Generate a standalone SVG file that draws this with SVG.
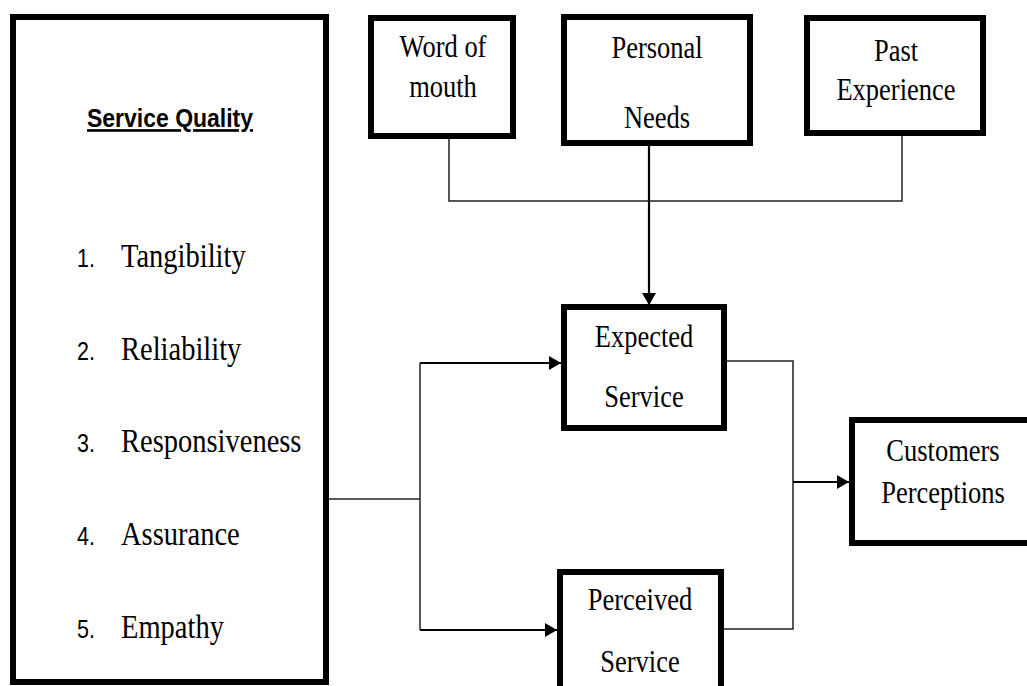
<svg xmlns="http://www.w3.org/2000/svg" width="1027" height="686" viewBox="0 0 1027 686">
<style>
.box{fill:#fff;stroke:#000;stroke-width:6}
.t{font-family:"Liberation Serif","Times New Roman",serif;font-size:26.5px;fill:#000;text-anchor:middle}
.li{font-family:"Liberation Serif","Times New Roman",serif;font-size:28.5px;fill:#000}
.num{font-family:"Liberation Sans",Arial,sans-serif;font-size:21.5px;fill:#000}
.ln{fill:none;stroke:#222;stroke-width:1.5}
.lnb{fill:none;stroke:#000;stroke-width:2.2}
</style>
<defs>
<marker id="ah" viewBox="0 0 12 14" refX="12" refY="7" markerWidth="12" markerHeight="14" markerUnits="userSpaceOnUse" orient="auto">
<path d="M0,0 L12,7 L0,14 Z" fill="#000"/>
</marker>
</defs>
<rect width="1027" height="686" fill="#fff"/>
<g id="connectors">
<polyline class="ln" points="449,139 449,201 902,201 902,136"/>
<line class="lnb" x1="649" y1="146" x2="649" y2="305" marker-end="url(#ah)"/>
<polyline class="ln" points="329,499 420,499"/>
<polyline class="lnb" points="420,363 561,363" marker-end="url(#ah)"/>
<polyline class="ln" points="420,363 420,630"/>
<polyline class="lnb" points="420,630 557,630" marker-end="url(#ah)"/>
<polyline class="ln" points="727,361 793,361 793,629 724,629"/>
<line class="lnb" x1="793" y1="482" x2="849" y2="482" marker-end="url(#ah)"/>
</g>
<g id="service-quality">
<rect class="box" x="13" y="17" width="313" height="665"/>
<text transform="translate(170 127) scale(1 1.15)" font-family="'Liberation Sans',Arial,sans-serif" font-weight="bold" font-size="23" text-anchor="middle" text-decoration="underline">Service Quality</text>
<text class="num" transform="translate(77 267) scale(1 1.16)">1.</text><text class="li" transform="translate(121 267) scale(1 1.16)">Tangibility</text>
<text class="num" transform="translate(77 360) scale(1 1.16)">2.</text><text class="li" transform="translate(121 360) scale(1 1.16)">Reliability</text>
<text class="num" transform="translate(77 452) scale(1 1.16)">3.</text><text class="li" transform="translate(121 452) scale(1 1.16)">Responsiveness</text>
<text class="num" transform="translate(77 545) scale(1 1.16)">4.</text><text class="li" transform="translate(121 545) scale(1 1.16)">Assurance</text>
<text class="num" transform="translate(77 638) scale(1 1.16)">5.</text><text class="li" transform="translate(121 638) scale(1 1.16)">Empathy</text>
</g>
<g id="word-of-mouth">
<rect class="box" x="371" y="18" width="142" height="118"/>
<text class="t" transform="translate(443 57) scale(1 1.18)">Word of</text>
<text class="t" transform="translate(443 97) scale(1 1.18)">mouth</text>
</g>
<g id="personal-needs">
<rect class="box" x="564" y="17" width="186" height="126"/>
<text class="t" transform="translate(657 58) scale(1 1.18)">Personal</text>
<text class="t" transform="translate(657 128) scale(1 1.18)">Needs</text>
</g>
<g id="past-experience">
<rect class="box" x="807" y="18" width="176" height="115"/>
<text class="t" transform="translate(896 61) scale(1 1.18)">Past</text>
<text class="t" transform="translate(896 100) scale(1 1.18)">Experience</text>
</g>
<g id="expected-service">
<rect class="box" x="564" y="307" width="160" height="121"/>
<text class="t" transform="translate(644 347) scale(1 1.18)">Expected</text>
<text class="t" transform="translate(644 407) scale(1 1.18)">Service</text>
</g>
<g id="perceived-service">
<rect class="box" x="560" y="572" width="161" height="130"/>
<text class="t" transform="translate(640 610) scale(1 1.18)">Perceived</text>
<text class="t" transform="translate(640 672) scale(1 1.18)">Service</text>
</g>
<g id="customers-perceptions">
<rect class="box" x="852" y="420" width="200" height="123"/>
<text class="t" transform="translate(943 461) scale(1 1.18)">Customers</text>
<text class="t" transform="translate(943 503) scale(1 1.18)">Perceptions</text>
</g>
</svg>
